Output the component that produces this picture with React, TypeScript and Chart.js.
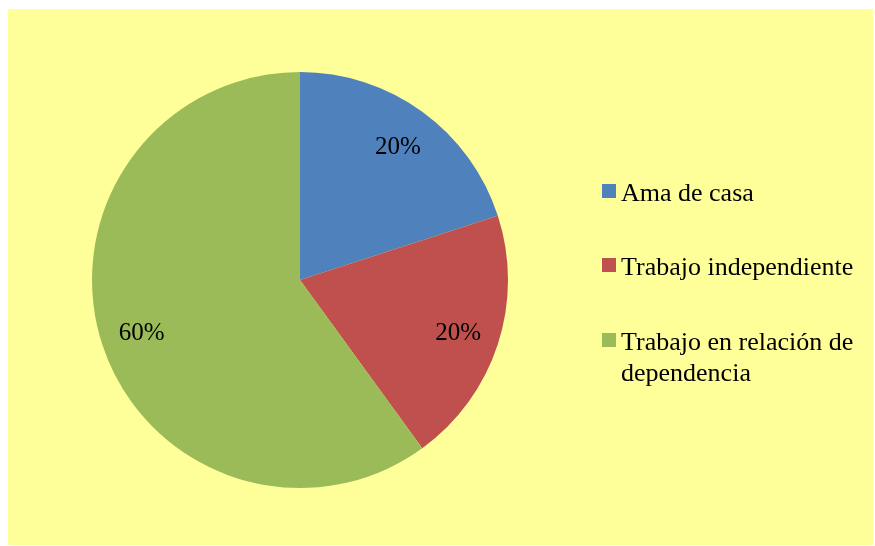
import React, { useEffect, useRef } from "react";
import { Chart, registerables } from "chart.js";

Chart.register(...registerables);

const categories = ["Ama de casa", "Trabajo independiente", "Trabajo en relación de dependencia"];
const legendLines = [["Ama de casa"], ["Trabajo independiente"], ["Trabajo en relación de", "dependencia"]];
const values = [20, 20, 60];
const colors = ["#4F81BD", "#C0504D", "#9BBB59"];

const LABEL_FONT = "25px 'Liberation Serif', 'Times New Roman', serif";
const LEGEND_FONT = "26px 'Liberation Serif', 'Times New Roman', serif";

const labelPlugin = {
  id: "pctLabels",
  afterDatasetsDraw(chart: any) {
    const ctx = chart.ctx;
    const meta = chart.getDatasetMeta(0);
    const total = values.reduce((a, b) => a + b, 0);
    ctx.save();
    ctx.font = LABEL_FONT;
    ctx.fillStyle = "#000";
    ctx.textAlign = "center";
    ctx.textBaseline = "middle";
    meta.data.forEach((arc: any, i: number) => {
      const { x, y, startAngle, endAngle, outerRadius } = arc.getProps(["x", "y", "startAngle", "endAngle", "outerRadius"], true);
      const mid = (startAngle + endAngle) / 2;
      const r = outerRadius * 0.8;
      const pct = Math.round((values[i] / total) * 100) + "%";
      ctx.fillText(pct, x + Math.cos(mid) * r, y + Math.sin(mid) * r + 2);
    });
    // legend
    ctx.font = LEGEND_FONT;
    const lx = 594;
    const tops = [175, 249, 324];
    ctx.textAlign = "left";
    ctx.textBaseline = "alphabetic";
    legendLines.forEach((lines, i) => {
      ctx.fillStyle = colors[i];
      ctx.fillRect(lx, tops[i], 14, 14);
      ctx.fillStyle = "#000";
      lines.forEach((t, j) => {
        ctx.fillText(t, lx + 19, tops[i] + 17 + j * 31);
      });
    });
    ctx.restore();
  },
};

export default function App() {
  const ref = useRef<HTMLCanvasElement | null>(null);
  useEffect(() => {
    if (!ref.current) return;
    const chart = new Chart(ref.current, {
      type: "pie",
      data: {
        labels: categories,
        datasets: [
          {
            data: values,
            backgroundColor: colors,
            borderWidth: 0,
          },
        ],
      },
      options: {
        animation: false,
        responsive: false,
        maintainAspectRatio: false,
        layout: { padding: { left: 84, right: 365, top: 63, bottom: 57 } },
        plugins: {
          legend: { display: false },
          tooltip: { enabled: false },
        },
      },
      plugins: [labelPlugin],
    });
    return () => chart.destroy();
  }, []);
  return (
    <div style={{ position: "absolute", left: 8, top: 9, width: 865, height: 536, background: "#FFFF99" }}>
      <canvas ref={ref} width={865} height={536} style={{ display: "block" }} />
    </div>
  );
}
